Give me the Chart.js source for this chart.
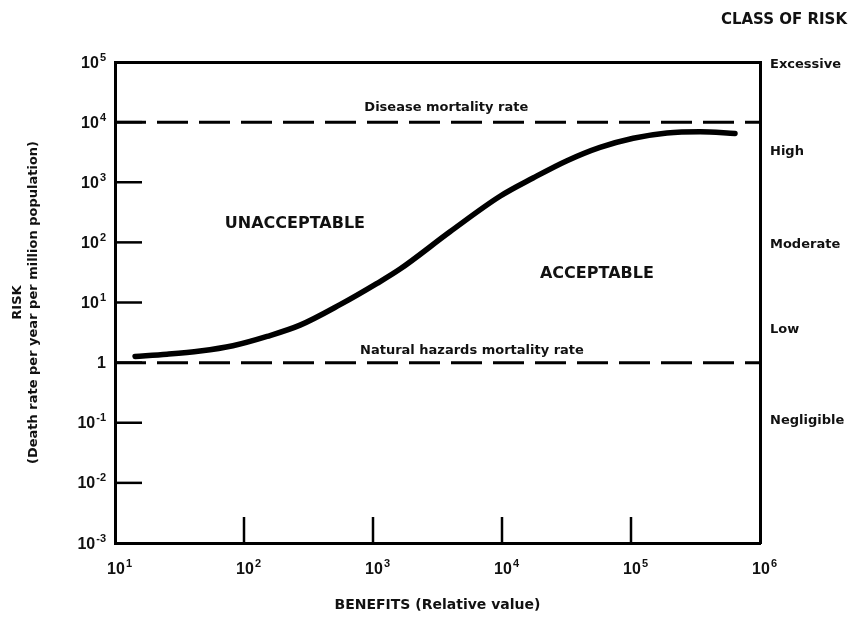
<!DOCTYPE html>
<html>
<head>
<meta charset="utf-8">
<title>Risk vs benefits</title>
<script src="https://cdn.jsdelivr.net/npm/chart.js@4/dist/chart.umd.min.js"></script>
<style>
  html, body { margin: 0; padding: 0; background: #fff; }
  #wrap { width: 852px; height: 617px; }
</style>
</head>
<body>
<div id="wrap"><canvas id="riskChart" width="852" height="617"></canvas></div>
<script>
// acceptable risk curve: benefit (relative value) against death rate per year per million
var benefit = [14.3, 25.3, 45.6, 82, 151, 272, 555, 1075, 1620, 3950, 9650, 17400, 31900, 57500, 104000, 190000, 343000, 640000];
var acceptableRisk = [1.27, 1.38, 1.56, 1.91, 2.73, 4.2, 9.2, 20.8, 36, 150, 585, 1175, 2280, 3800, 5400, 6620, 6940, 6480];

// reference mortality levels
var diseaseRate = 1e4;
var naturalHazardRate = 1;

var benefitTicks = [1e1, 1e2, 1e3, 1e4, 1e5, 1e6];
var riskTicks = [1e-3, 1e-2, 1e-1, 1, 1e1, 1e2, 1e3, 1e4, 1e5];

// class of risk names and the level each name sits at on the right axis
var riskClasses = ['Excessive', 'High', 'Moderate', 'Low', 'Negligible'];
var riskClassLevels = [89000, 3200, 91, 3.5, 0.11];

// text written inside the plot
var areaLabels = ['UNACCEPTABLE', 'ACCEPTABLE', 'Disease mortality rate', 'Natural hazards mortality rate'];
var areaLabelBenefit = [248, 54400, 3700, 5850];
var areaLabelRisk = [205, 30.4, 17200, 1.6];
var areaLabelSize = [16, 16, 13, 13];

var INK = '#111';
var FONT = "'DejaVu Sans', Verdana, sans-serif";
var NUM_FONT = "'Liberation Sans', Arial, sans-serif";

function decade(v) { return Math.round(Math.log10(v)); }

// "10" with a raised exponent; 10^0 is written as a plain 1
function drawPow(ctx, v, x, y, align) {
    var e = decade(v);
    var base = e === 0 ? '1' : '10';
    var expo = e === 0 ? '' : String(e);
    ctx.font = 'bold 16px ' + NUM_FONT;
    var wb = ctx.measureText(base).width;
    ctx.font = 'bold 11px ' + NUM_FONT;
    var we = expo ? ctx.measureText(expo).width + 1 : 0;
    var start = align === 'right' ? x - wb - we : x - wb / 2;
    ctx.textAlign = 'left';
    ctx.textBaseline = 'alphabetic';
    ctx.font = 'bold 16px ' + NUM_FONT;
    ctx.fillText(base, start, y);
    if (expo) {
        ctx.font = 'bold 11px ' + NUM_FONT;
        ctx.fillText(expo, start + wb + 1, y - 7);
    }
}

function fixedTicks(list) {
    return function (scale) {
        scale.ticks = list.map(function (v) { return { value: v }; });
    };
}

// decade labels on the left and bottom axes, tick marks pointing inward
var powerAxes = {
    id: 'powerAxes',
    afterDatasetsDraw: function (chart) {
        var ctx = chart.ctx, area = chart.chartArea;
        var xs = chart.scales.x, ys = chart.scales.y;
        ctx.save();
        ctx.strokeStyle = '#000';
        ctx.fillStyle = INK;
        ctx.lineWidth = 2.5;
        ys.ticks.forEach(function (t) {
            var py = ys.getPixelForValue(t.value);
            drawPow(ctx, t.value, area.left - 9, py + 5.5, 'right');
            if (t.value <= ys.min || t.value >= ys.max) return;
            ctx.beginPath();
            ctx.moveTo(area.left, py);
            ctx.lineTo(area.left + 27, py);
            ctx.stroke();
        });
        xs.ticks.forEach(function (t) {
            var px = xs.getPixelForValue(t.value);
            drawPow(ctx, t.value, px + 1, area.bottom + 31, 'center');
            if (t.value <= xs.min || t.value >= xs.max) return;
            ctx.beginPath();
            ctx.moveTo(px, area.bottom);
            ctx.lineTo(px, area.bottom - 26);
            ctx.stroke();
        });
        ctx.restore();
    }
};

// region names and the two mortality rate captions
var areaText = {
    id: 'areaText',
    afterDatasetsDraw: function (chart) {
        var ctx = chart.ctx;
        var xs = chart.scales.x, ys = chart.scales.y;
        ctx.save();
        ctx.fillStyle = INK;
        ctx.textAlign = 'center';
        ctx.textBaseline = 'middle';
        areaLabels.forEach(function (txt, i) {
            ctx.font = 'bold ' + areaLabelSize[i] + 'px ' + FONT;
            ctx.fillText(txt, xs.getPixelForValue(areaLabelBenefit[i]), ys.getPixelForValue(areaLabelRisk[i]));
        });
        ctx.restore();
    }
};

var curve = benefit.map(function (b, i) { return { x: b, y: acceptableRisk[i] }; });
var xFrom = benefitTicks[0], xTo = benefitTicks[benefitTicks.length - 1];

var border = { display: true, color: '#000', width: 3 };
var noGrid = { drawOnChartArea: false, drawTicks: false };

new Chart(document.getElementById('riskChart'), {
    type: 'line',
    data: {
        datasets: [{
            label: 'Acceptable risk',
            data: curve,
            borderColor: '#000',
            borderWidth: 5.5,
            borderCapStyle: 'round',
            cubicInterpolationMode: 'monotone',
            pointRadius: 0
        }, {
            label: 'Disease mortality rate',
            data: [{ x: xFrom, y: diseaseRate }, { x: xTo, y: diseaseRate }],
            borderColor: '#000',
            borderWidth: 3,
            borderDash: [31, 11],
            pointRadius: 0
        }, {
            label: 'Natural hazards mortality rate',
            data: [{ x: xFrom, y: naturalHazardRate }, { x: xTo, y: naturalHazardRate }],
            borderColor: '#000',
            borderWidth: 3,
            borderDash: [31, 11],
            pointRadius: 0
        }]
    },
    options: {
        responsive: false,
        animation: false,
        devicePixelRatio: 1,
        layout: { padding: { left: 0, right: 5, top: 0, bottom: 0 } },
        plugins: {
            legend: { display: false },
            tooltip: { enabled: false },
            title: {
                display: true,
                text: 'CLASS OF RISK',
                align: 'end',
                color: INK,
                font: { family: FONT, size: 15, weight: 'bold' },
                padding: { top: 11, bottom: 0 }
            }
        },
        scales: {
            x: {
                type: 'logarithmic',
                position: 'bottom',
                min: xFrom,
                max: xTo,
                afterBuildTicks: fixedTicks(benefitTicks),
                afterFit: function (s) { s.height = 74; },
                ticks: { display: false },
                grid: noGrid,
                border: border,
                title: {
                    display: true,
                    text: 'BENEFITS (Relative value)',
                    color: INK,
                    font: { family: FONT, size: 14, weight: 'bold' },
                    padding: { top: 0, bottom: 3 }
                }
            },
            xTop: {
                type: 'logarithmic',
                position: 'top',
                min: xFrom,
                max: xTo,
                afterFit: function (s) { s.height = 33; },
                ticks: { display: false },
                grid: noGrid,
                border: border
            },
            y: {
                type: 'logarithmic',
                position: 'left',
                min: riskTicks[0],
                max: riskTicks[riskTicks.length - 1],
                afterBuildTicks: fixedTicks(riskTicks),
                afterFit: function (s) { s.width = 115; },
                ticks: { display: false },
                grid: noGrid,
                border: border,
                title: {
                    display: true,
                    text: ['RISK', '(Death rate per year per million population)'],
                    color: INK,
                    font: { family: FONT, size: 13, weight: 'bold', lineHeight: 1.2 },
                    padding: { top: 10, bottom: 0 }
                }
            },
            yClass: {
                type: 'logarithmic',
                position: 'right',
                min: riskTicks[0],
                max: riskTicks[riskTicks.length - 1],
                afterBuildTicks: fixedTicks(riskClassLevels),
                afterFit: function (s) { s.width = 87; },
                ticks: {
                    callback: function (v) { return riskClasses[riskClassLevels.indexOf(v)]; },
                    color: INK,
                    font: { family: FONT, size: 13, weight: 'bold' },
                    padding: 10,
                    autoSkip: false
                },
                grid: noGrid,
                border: border
            }
        }
    },
    plugins: [powerAxes, areaText]
});
</script>
</body>
</html>
